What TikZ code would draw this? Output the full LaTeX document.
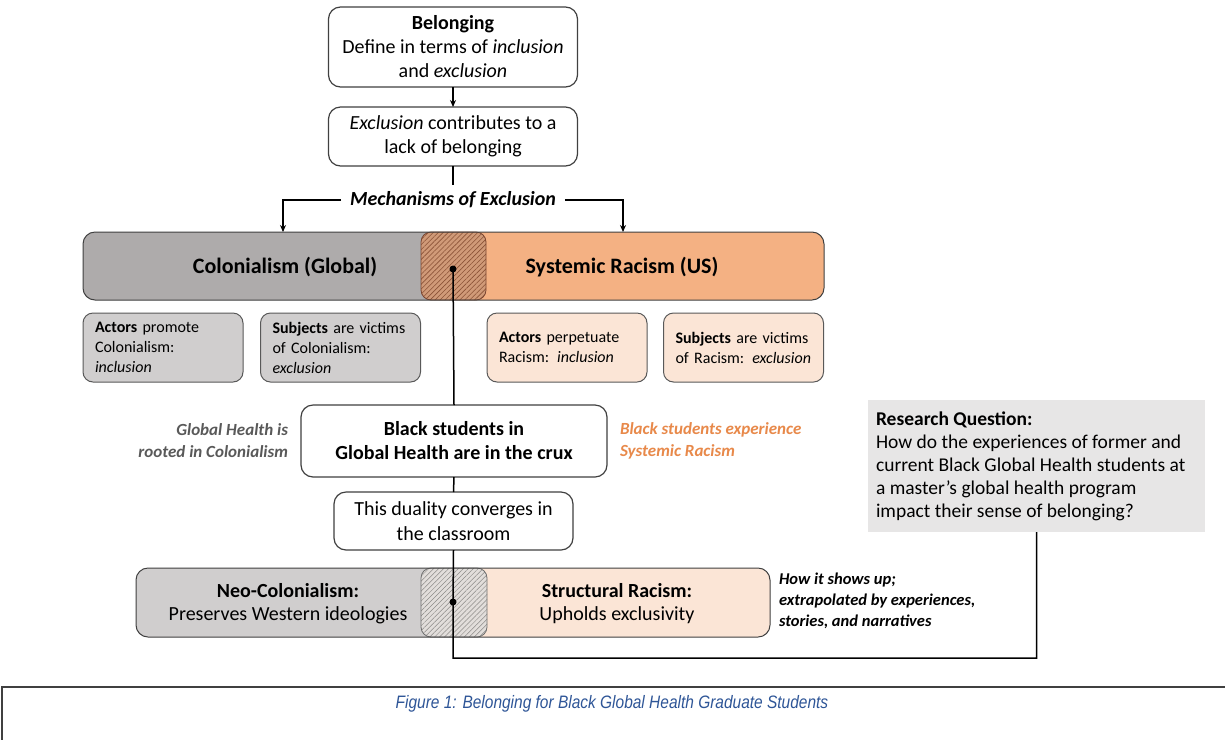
\documentclass[tikz,border=0pt]{standalone}
\usepackage{fontspec}
\setmainfont{Carlito}
\newfontfamily\capfont{Liberation Sans}
\usetikzlibrary{patterns.meta,arrows.meta}

\definecolor{graybar}{HTML}{AEABAB}
\definecolor{orbar}{HTML}{F4B183}
\definecolor{hatchAbg}{HTML}{D09A78}
\definecolor{hatchAline}{HTML}{8B5337}
\definecolor{hatchAedge}{HTML}{7A4530}
\definecolor{lgray}{HTML}{D0CECE}
\definecolor{lorange}{HTML}{FBE5D6}
\definecolor{hatchBbg}{HTML}{E2DEDB}
\definecolor{hatchBline}{HTML}{8C8A88}
\definecolor{hatchBedge}{HTML}{6E6E6E}
\definecolor{boxline}{HTML}{404040}
\definecolor{smline}{HTML}{595959}
\definecolor{notegray}{HTML}{595959}
\definecolor{noteorange}{HTML}{E8894A}
\definecolor{rqfill}{HTML}{E7E6E6}
\definecolor{capblue}{HTML}{2E5597}
\definecolor{framegray}{HTML}{404040}

\begin{document}
\begin{tikzpicture}[x=1pt,y=-1pt,
  every node/.style={inner sep=0pt, outer sep=0pt},
  box/.style={draw=boxline, line width=1.2pt, rounded corners=12pt, fill=white,
    align=center, font=\fontsize{20}{24}\selectfont},
  sbox/.style={draw=smline, line width=1pt, rounded corners=10pt,
    minimum height=69pt, inner xsep=12pt, text width=136pt, align=left,
    font=\fontsize{16}{20}\selectfont},
  barframe/.style={draw=boxline, line width=1pt, rounded corners=12pt},
  hatchA/.style={draw=hatchAedge, line width=0.8pt, rounded corners=10pt,
    preaction={fill=hatchAbg},
    pattern={Lines[angle=45,distance=3.5pt,line width=0.6pt]}, pattern color=hatchAline},
  hatchB/.style={draw=hatchBedge, line width=0.8pt, rounded corners=10pt,
    preaction={fill=hatchBbg},
    pattern={Lines[angle=45,distance=3.5pt,line width=0.5pt]}, pattern color=hatchBline},
  bartext/.style={font=\fontsize{22}{26}\selectfont\bfseries},
  dot/.style={circle, fill=black, minimum size=7pt},
  conn/.style={line width=1.5pt, black},
  arr/.style={conn, -{Stealth[length=7pt,width=6pt]}},
  note/.style={font=\fontsize{17}{22}\selectfont\bfseries\itshape}
]
\useasboundingbox[fill=white] (0,0) rectangle (1225,740);

% --- top chain -------------------------------------------------------
\node[box, minimum width=249pt, minimum height=80pt] (bel) at (453,47)
  {\textbf{Belonging}\\Define in terms of \textit{inclusion}\\and \textit{exclusion}};
\node[box, minimum width=249pt, minimum height=59pt] (excl) at (453,136.5)
  {\textit{Exclusion} contributes to a\\lack of belonging};
\node[font=\fontsize{20}{24}\selectfont\bfseries\itshape, inner xsep=9pt] (mech) at (453,200)
  {Mechanisms of Exclusion};

% --- upper bar: colonialism / systemic racism ------------------------
\fill[graybar, rounded corners=12pt] (83,232) rectangle (470,300);
\fill[orbar, rounded corners=12pt] (437,232) rectangle (824,300);
\node[hatchA, minimum width=65pt, minimum height=68pt] (ovtop) at (453.5,266) {};
\node[barframe, minimum width=741pt, minimum height=68pt] (topbar) at (453.5,266) {};
\node[bartext] (colon) at (285,267) {Colonialism (Global)};
\node[bartext] (sysrac) at (622,267) {Systemic Racism (US)};

% --- actor / subject boxes ------------------------------------------
\node[sbox, fill=lgray] (act1) at (163,347.5)
  {\textbf{Actors} promote\\Colonialism:\\\textit{inclusion}};
\node[sbox, fill=lgray] (sub1) at (340.5,347.5)
  {\textbf{Subjects} are victims\\of Colonialism:\\\textit{exclusion}};
\node[sbox, fill=lorange] (act2) at (567,347.5)
  {\textbf{Actors} perpetuate\\Racism: \textit{inclusion}};
\node[sbox, fill=lorange] (sub2) at (743.5,347.5)
  {\textbf{Subjects} are victims\\of Racism: \textit{exclusion}};

% --- crux ------------------------------------------------------------
\node[box, minimum width=306pt, minimum height=72pt, font=\fontsize{20}{24}\selectfont\bfseries] (crux) at (454,441)
  {Black students in\\Global Health are in the crux};
\node[note, text=notegray, anchor=east, align=right] (ghnote) at (288,441)
  {Global Health is\\rooted in Colonialism};
\node[note, text=noteorange, anchor=west, align=left] (bsnote) at (620,441)
  {Black students experience\\Systemic Racism};
\node[box, minimum width=239pt, minimum height=58pt, font=\fontsize{20}{25}\selectfont] (dual) at (453.5,521)
  {This duality converges in\\the classroom};

% --- lower bar: neo-colonialism / structural racism ------------------
\fill[lgray, rounded corners=12pt] (136,568) rectangle (470,637);
\fill[lorange, rounded corners=12pt] (437,568) rectangle (770,637);
\node[hatchB, minimum width=66pt, minimum height=69pt] (ovbot) at (454,602.5) {};
\node[barframe, minimum width=634pt, minimum height=69pt] (botbar) at (453,602.5) {};
\node[font=\fontsize{20}{23}\selectfont, align=center] (neo) at (288,603.5)
  {\textbf{Neo-Colonialism:}\\Preserves Western ideologies};
\node[font=\fontsize{20}{23}\selectfont, align=center] (struct) at (617,603.5)
  {\textbf{Structural Racism:}\\Upholds exclusivity};
\node[font=\fontsize{16.5}{21}\selectfont\bfseries\itshape, anchor=west, align=left] (howit) at (779,601)
  {How it shows up;\\extrapolated by experiences,\\stories, and narratives};

% --- research question -----------------------------------------------
\node[fill=rqfill, minimum width=337pt, minimum height=132pt] (rq) at (1036.5,466) {};
\node[anchor=west, align=left, font=\fontsize{19.5}{23}\selectfont] (rqtext) at ([xshift=8pt]rq.west)
  {\textbf{Research Question:}\\How do the experiences of former and\\current Black Global Health students at\\a master’s global health program\\impact their sense of belonging?};

% --- connectors --------------------------------------------------------
\coordinate (mtop) at (453,185);
\coordinate (mL) at (283,200);
\coordinate (mR) at (623,200);
\coordinate (turn) at (453,658);
\node[dot] (dtop) at (453,269) {};
\node[dot] (dbot) at (453,602) {};

\draw[arr] (bel.south) -- (excl.north);
\draw[conn] (excl.south) -- (mtop);
\draw[arr] (mech.west) -- (mL) -- (mL |- topbar.north);
\draw[arr] (mech.east) -- (mR) -- (mR |- topbar.north);
\draw[conn] (dtop.center) -- (crux.north);
\draw[conn] (crux.south) -- (dual.north);
\draw[conn] (dual.south) -- (dbot.center) -- (turn) -| (rq.south);

% --- caption frame -----------------------------------------------------
\draw[line width=2pt, framegray] (1225,687) -- (2,687) -- (2,740);
\node[font={\capfont\itshape\fontsize{18}{20}\selectfont}, text=capblue] (cap) at (612,704)
  {\scalebox{0.86}[1]{Figure 1: Belonging for Black Global Health Graduate Students}};
\end{tikzpicture}
\end{document}
